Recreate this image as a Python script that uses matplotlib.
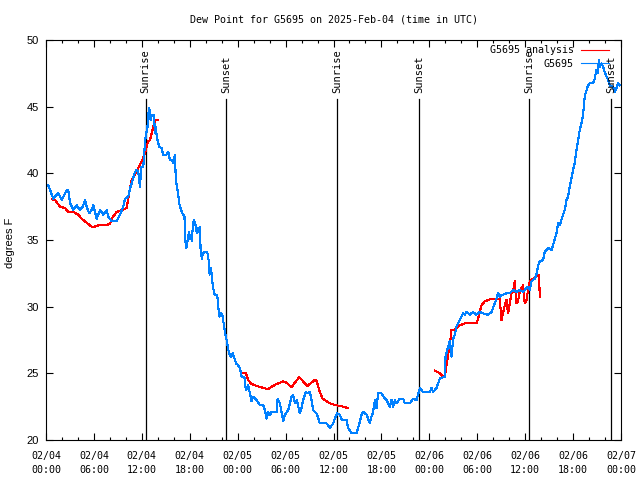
import numpy as np
import matplotlib
matplotlib.use("Agg")
import matplotlib.pyplot as plt
from matplotlib.ticker import MultipleLocator

# observed dew point (hours since 2025-02-04 00:00 UTC, deg F)
obs_hours = [0.29, 0.6, 0.91, 1.2, 1.54, 1.96, 2.3, 2.59, 2.79, 3.0, 3.42, 3.84, 4.26, 4.6, 4.88,
             5.09, 5.4, 5.72, 5.92, 6.35, 6.76, 7.17, 7.6, 7.8, 8.22, 8.85, 9.26, 9.67, 9.89, 10.3,
             10.5, 11.14, 11.35, 11.55, 11.76, 11.95, 12.18, 12.39, 12.52, 12.68, 12.8, 12.93, 13.1,
             13.27, 13.52, 13.64, 13.77, 13.86, 14.18, 14.47, 14.68, 15.1, 15.31, 15.52, 15.75,
             15.93, 16.15, 16.24, 16.36, 16.56, 16.73, 16.93, 17.15, 17.33, 17.43, 17.56, 17.68,
             17.9, 18.06, 18.15, 18.27, 18.4, 18.52, 18.69, 18.9, 19.02, 19.15, 19.27, 19.36, 19.52,
             19.65, 19.86, 20.19, 20.36, 20.49, 20.61, 20.71, 20.9, 21.11, 21.44, 21.61, 21.74,
             21.94, 22.07, 22.24, 22.44, 22.65, 22.78, 22.99, 23.19, 23.4, 23.62, 23.8, 24.07,
             24.28, 24.49, 24.84, 25.03, 25.32, 25.74, 25.95, 26.37, 26.78, 27.2, 27.41, 27.62,
             27.82, 28.04, 28.25, 28.87, 29.0, 29.29, 29.7, 29.91, 30.33, 30.75, 30.95, 31.16,
             31.4, 31.79, 32.0, 32.2, 32.54, 32.83, 33.04, 33.25, 33.45, 33.88, 34.29, 35.13,
             35.54, 35.96, 36.17, 36.46, 36.8, 37.05, 37.63, 37.83, 38.26, 38.89, 39.09, 39.51,
             39.71, 40.14, 40.55, 40.76, 40.96, 41.18, 41.39, 41.59, 42.01, 42.43, 42.64, 43.05,
             43.27, 43.47, 43.68, 43.89, 44.31, 44.72, 44.93, 45.56, 45.97, 46.39, 46.6, 46.81,
             47.22, 48.06, 48.27, 48.47, 48.9, 49.1, 49.31, 49.94, 50.03, 50.35, 50.56, 50.78,
             50.98, 51.19, 51.4, 51.6, 51.81, 52.23, 52.44, 52.65, 53.07, 53.48, 53.9, 54.32,
             54.73, 55.32, 55.78, 56.2, 56.4, 56.61, 56.82, 57.03, 57.23, 57.66, 58.07, 58.48,
             58.9, 59.32, 59.74, 59.95, 60.36, 60.58, 60.79, 61.2, 61.41, 61.62, 61.83, 62.24,
             62.45, 62.87, 63.29, 63.49, 63.92, 64.12, 64.33, 64.74, 64.96, 65.17, 65.37, 65.58,
             65.79, 65.99, 66.2, 66.42, 66.62, 66.83, 67.05, 67.25, 67.46, 67.87, 68.09, 68.5,
             68.71, 68.92, 69.08, 69.25, 69.34, 69.55, 69.75, 69.96, 70.18, 70.39, 70.59, 71.0,
             71.22, 71.43, 71.63, 71.84]
obs_dewpt = [39.1, 38.6, 38.1, 38.3, 38.5, 38.0, 38.4, 38.75, 38.7, 37.8, 37.25, 37.6, 37.25, 37.5, 38.0,
             37.5, 37.0, 37.25, 37.6, 36.6, 37.25, 36.9, 37.25, 36.75, 36.4, 36.4, 36.9, 37.5, 38.1, 38.25,
             38.8, 40.1, 40.25, 40.1, 39.0, 40.5, 40.5, 42.25, 43.0, 43.25, 44.4, 44.9, 44.0,
             44.4, 44.4, 43.0, 43.5, 42.75, 42.0, 41.9, 41.4, 41.4, 41.6, 41.0, 41.0,
             40.75, 41.4, 39.75, 39.1, 38.4, 37.6, 37.25, 36.9, 36.9, 35.0, 34.4, 34.75,
             35.6, 35.1, 35.4, 34.9, 36.25, 36.5, 36.2, 35.5, 35.9, 35.6, 36.0, 34.25, 33.6,
             34.0, 34.1, 34.1, 33.5, 32.4, 32.9, 32.6, 31.5, 30.9, 30.9, 29.75, 29.25,
             29.5, 29.4, 28.75, 28.0, 27.4, 26.9, 26.4, 26.25, 26.5, 26.1, 25.75, 25.6,
             25.4, 24.75, 24.75, 23.75, 24.1, 22.9, 23.25, 23.0, 22.6, 22.6, 22.25, 21.6,
             22.1, 21.9, 22.1, 22.1, 23.1, 22.75, 21.4, 21.9, 22.25, 23.25, 23.4, 22.75,
             23.0, 22.0, 22.4, 23.0, 23.6, 23.5, 23.6, 23.0, 22.25, 22.0, 21.25, 21.25,
             20.9, 21.25, 21.6, 22.0, 21.9, 21.5, 21.5, 20.9, 20.5, 20.5, 20.9, 21.9,
             22.1, 21.9, 21.25, 21.75, 22.1, 23.0, 22.4, 23.5, 23.5, 23.1, 23.0, 22.5,
             23.0, 22.5, 23.0, 22.75, 23.1, 23.1, 22.75, 22.75, 23.1, 23.0, 23.4, 23.9,
             23.6, 23.6, 23.9, 23.6, 23.9, 24.25, 24.6, 24.75, 26.25, 27.0, 27.4, 26.25,
             27.6, 27.9, 28.5, 28.75, 29.0, 29.5, 29.4, 29.6, 29.4, 29.6, 29.4, 29.6,
             29.5, 29.4, 29.6, 30.25, 30.6, 31.0, 30.75, 30.9, 30.9, 31.0, 31.0, 31.25,
             31.1, 31.25, 31.1, 31.25, 31.5, 31.25, 31.9, 32.1, 32.4, 33.1, 33.4, 33.5,
             34.1, 34.4, 34.25, 34.6, 35.5, 36.25, 36.1, 36.9, 37.25, 38.0, 38.25, 39.0,
             39.6, 40.25, 40.75, 41.75, 42.4, 43.25, 43.75, 44.4, 45.8, 46.6, 46.75, 46.75,
             47.1, 47.75, 47.5, 48.5, 48.0, 48.25, 48.0, 47.6, 47.25, 47.0, 46.6, 46.5,
             46.1, 46.4, 46.75, 46.6]

# analysis dew point, NaN marks gaps between runs
ana_hours = [0.71, 1.13, 1.75, 2.38, 2.79, 3.42, 4.04, 4.47, 4.88, 5.29, 5.84, 6.55, 7.38, 8.01,
             8.22, 8.85, 9.47, 10.1, 10.3, 10.51, 10.73, 11.14, 11.55, 11.98, 12.39, 12.6, 12.8,
             13.02, 13.23, 13.43, 13.64, 13.98,
             np.nan,
             24.69, 25.03, 25.32, 25.74, 26.37, 27.0, 27.82, 28.25, 28.87, 29.7, 30.13, 30.75,
             31.16, 31.7, 32.2, 32.7, 33.13, 33.67, 33.88, 34.29, 34.63, 35.13, 35.76, 36.38,
             37.21, 37.83,
             np.nan,
             48.69, 49.31, 49.72, 49.94, 50.15, 50.35, 50.56, 50.78, 51.19, 51.4, 51.81, 52.44,
             53.9, 54.11, 54.53, 54.94, 55.36, 55.78, 56.82, 57.03, 57.23, 57.44, 57.66, 57.86,
             58.07, 58.28, 58.48, 58.69, 58.9, 59.1, 59.32, 59.53, 59.74, 59.95, 60.16, 60.36,
             60.58, 60.99, 61.41, 61.73, 61.83]
ana_dewpt = [38.05, 38.0, 37.5, 37.4, 37.1, 37.1, 36.9, 36.6, 36.4, 36.2, 35.95, 36.1, 36.1, 36.2,
             36.6, 37.1, 37.25, 37.4, 38.1, 38.9, 39.5, 39.9, 40.4, 40.9, 41.5, 42.0, 42.4,
             42.5, 43.0, 43.5, 43.95, 44.0,
             np.nan,
             25.0, 25.0, 24.5, 24.2, 24.05, 23.95, 23.8, 24.0, 24.2, 24.4, 24.3, 23.95,
             24.3, 24.7, 24.4, 24.05, 24.25, 24.5, 24.45, 23.6, 23.1, 22.9, 22.7, 22.6,
             22.5, 22.4,
             np.nan,
             25.2, 25.0, 24.75, 24.75, 25.6, 26.4, 27.1, 28.25, 28.25, 28.4, 28.6, 28.75,
             28.75, 29.1, 30.1, 30.4, 30.5, 30.6, 30.6, 29.0, 29.5, 30.1, 30.5, 29.5,
             30.25, 31.0, 31.1, 31.9, 30.25, 30.4, 31.1, 31.4, 31.6, 30.25, 30.5, 31.25,
             31.9, 32.1, 32.25, 32.4, 30.75]

sun_hours = [12.47, 22.6, 36.42, 46.68, 60.45, 70.76]
sun_labels = ["Sunrise", "Sunset", "Sunrise", "Sunset", "Sunrise", "Sunset"]

xtick_hours = list(range(0, 73, 6))
xtick_labels = ["02/04\n00:00", "02/04\n06:00", "02/04\n12:00", "02/04\n18:00",
                "02/05\n00:00", "02/05\n06:00", "02/05\n12:00", "02/05\n18:00",
                "02/06\n00:00", "02/06\n06:00", "02/06\n12:00", "02/06\n18:00",
                "02/07\n00:00"]

MONO = "DejaVu Sans Mono"
SANS = "Liberation Sans"

fig = plt.figure(figsize=(6.4, 4.8), dpi=100)
ax = fig.add_axes([46 / 640, 40 / 480, 575 / 640, 400 / 480])

# sunrise / sunset markers
for h, lab in zip(sun_hours, sun_labels):
    ax.plot([h, h], [20, 45.6], color="black", lw=0.9, zorder=1)
    ax.text(h, 46.05, lab, rotation=90, ha="center", va="bottom",
            family=MONO, fontsize=7.5, zorder=3)

ax.plot(ana_hours, ana_dewpt, color="#ff0000", lw=0.8, label="G5695 analysis",
        antialiased=False, zorder=2)
ax.plot(obs_hours, obs_dewpt, color="#0080ff", lw=0.8, label="G5695",
        antialiased=False, zorder=2)

ax.set_xlim(0, 72)
ax.set_ylim(20, 50)
ax.set_xticks(xtick_hours)
ax.set_xticklabels(xtick_labels, family=MONO, fontsize=7.2, linespacing=1.5)
ax.xaxis.set_minor_locator(MultipleLocator(2))
ax.yaxis.set_major_locator(MultipleLocator(5))
for lab in ax.get_yticklabels():
    lab.set_family(SANS)
    lab.set_fontsize(8)

ax.tick_params(axis="both", which="both", direction="in", top=True, right=True, width=0.8)
ax.tick_params(axis="both", which="major", length=5)
ax.tick_params(axis="both", which="minor", length=2.5)
ax.tick_params(axis="x", pad=8)
ax.tick_params(axis="y", pad=5)
for sp in ax.spines.values():
    sp.set_linewidth(0.8)

leg = ax.legend(loc="upper right", bbox_to_anchor=(0.979, 0.987), frameon=False,
                markerfirst=False, handlelength=2.8, handletextpad=0.7,
                labelspacing=0.35, borderpad=0, borderaxespad=0,
                prop={"family": MONO, "size": 7.2})

fig.text(333.5 / 640, 1 - 20 / 480, "Dew Point for G5695 on 2025-Feb-04 (time in UTC)",
         ha="center", va="center", family=MONO, fontsize=7.2)
fig.text(10 / 640, 1 - 243 / 480, "degrees F", rotation=90, ha="center", va="center",
         family=SANS, fontsize=8)

fig.savefig("out.png", dpi=100)
